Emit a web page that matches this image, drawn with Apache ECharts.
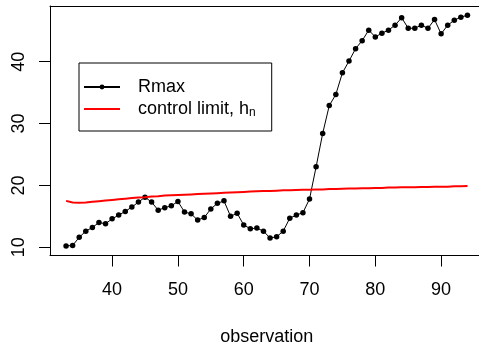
<!DOCTYPE html>
<html>
<head>
<meta charset="utf-8">
<script src="https://cdn.jsdelivr.net/npm/echarts@6/dist/echarts.min.js"></script>
<style>html,body{margin:0;padding:0;background:#fff;}#c{width:479px;height:343px;}</style>
</head>
<body>
<div id="c"></div>
<script>
// observation numbers
const observations = [33,34,35,36,37,38,39,40,41,42,43,44,45,46,47,48,49,50,51,52,53,54,55,56,57,58,59,60,61,62,63,64,65,66,67,68,69,70,71,72,73,74,75,76,77,78,79,80,81,82,83,84,85,86,87,88,89,90,91,92,93,94];
// Rmax series
const rmax = [10.2,10.3,11.6,12.6,13.2,14.0,13.8,14.6,15.2,15.8,16.5,17.3,18.1,17.3,16.0,16.4,16.7,17.4,15.7,15.4,14.4,14.8,16.2,17.1,17.5,15.0,15.5,13.6,13.0,13.1,12.6,11.5,11.7,12.6,14.7,15.2,15.6,17.8,23.0,28.4,32.9,34.7,38.2,40.1,42.1,43.4,45.1,44.0,44.6,45.1,45.9,47.1,45.4,45.4,45.9,45.4,46.8,44.5,45.9,46.7,47.2,47.5];
// control limit h_n
const controlLimit = [17.5,17.25,17.2,17.25,17.35,17.45,17.55,17.65,17.75,17.85,17.95,18.05,18.1,18.2,18.25,18.35,18.4,18.45,18.5,18.55,18.6,18.65,18.7,18.75,18.8,18.85,18.9,18.95,19.0,19.05,19.1,19.1,19.15,19.2,19.2,19.25,19.3,19.3,19.35,19.35,19.4,19.4,19.45,19.5,19.5,19.55,19.55,19.6,19.6,19.65,19.65,19.7,19.7,19.7,19.75,19.75,19.8,19.8,19.8,19.85,19.85,19.9];
const xTicks = [40,50,60,70,80,90];
const yTicks = [10,20,30,40];

const FONT = 'Liberation Sans, Arial, sans-serif';
const chart = echarts.init(document.getElementById('c'), null, {renderer:'canvas'});
chart.setOption({
  animation: false,
  backgroundColor: '#fff',
  grid: {left: 50, top: 6, right: -4.5, bottom: 87.5, show: false, containLabel: false, outerBoundsMode: 'none'},
  xAxis: [{
    type: 'value', min: 30.56, max: 96.44,
    name: 'observation', nameLocation: 'middle', nameGap: 73,
    nameTextStyle: {fontFamily: FONT, fontSize: 18, color: '#000'},
    axisLine: {show: true, onZero: false, lineStyle: {color: '#000', width: 1}},
    splitLine: {show: false},
    axisTick: {show: true, length: 11, lineStyle: {color: '#000'}, customValues: xTicks},
    axisLabel: {fontFamily: FONT, fontSize: 18, color: '#000', margin: 26, customValues: xTicks}
  }, {
    type: 'value', min: 30.56, max: 96.44, position: 'top',
    axisLine: {show: true, onZero: false, lineStyle: {color: '#000', width: 1}},
    splitLine: {show: false}, axisTick: {show: false}, axisLabel: {show: false}
  }],
  yAxis: {
    type: 'value', min: 8.67, max: 49.0,
    axisLine: {show: true, onZero: false, lineStyle: {color: '#000', width: 1}},
    splitLine: {show: false},
    axisTick: {show: true, length: 11, lineStyle: {color: '#000'}, customValues: yTicks},
    axisLabel: {fontFamily: FONT, fontSize: 18, color: '#000', margin: 22, rotate: 90, customValues: yTicks}
  },
  legend: {
    orient: 'vertical', left: 79, top: 63,
    padding: [15, 16, 12, 4],
    itemGap: 4,
    itemWidth: 36, itemHeight: 6,
    borderColor: '#000', borderWidth: 1, backgroundColor: '#fff',
    formatter: function(name){ return name === 'control limit' ? 'control limit, h{sub|n}' : name; },
    textStyle: {fontFamily: FONT, fontSize: 18, color: '#000', padding: [0,0,0,13],
      rich: {sub: {fontFamily: FONT, fontSize: 12, color: '#000', verticalAlign: 'bottom', padding: [8,0,0,0]}}},
    data: [{name: 'Rmax'}, {name: 'control limit', itemStyle: {opacity: 0}}]
  },
  series: [
    {name: 'Rmax', type: 'line', data: observations.map((o,i)=>[o, rmax[i]]),
     symbol: 'circle', symbolSize: 5.5, showSymbol: true,
     lineStyle: {color: '#000', width: 1}, itemStyle: {color: '#000'}, z: 2},
    {name: 'control limit', type: 'line', data: observations.map((o,i)=>[o, controlLimit[i]]),
     symbol: 'none', smooth: false,
     lineStyle: {color: '#ff0000', width: 2}, itemStyle: {color: '#ff0000'}, z: 3}
  ]
});
</script>
</body>
</html>
